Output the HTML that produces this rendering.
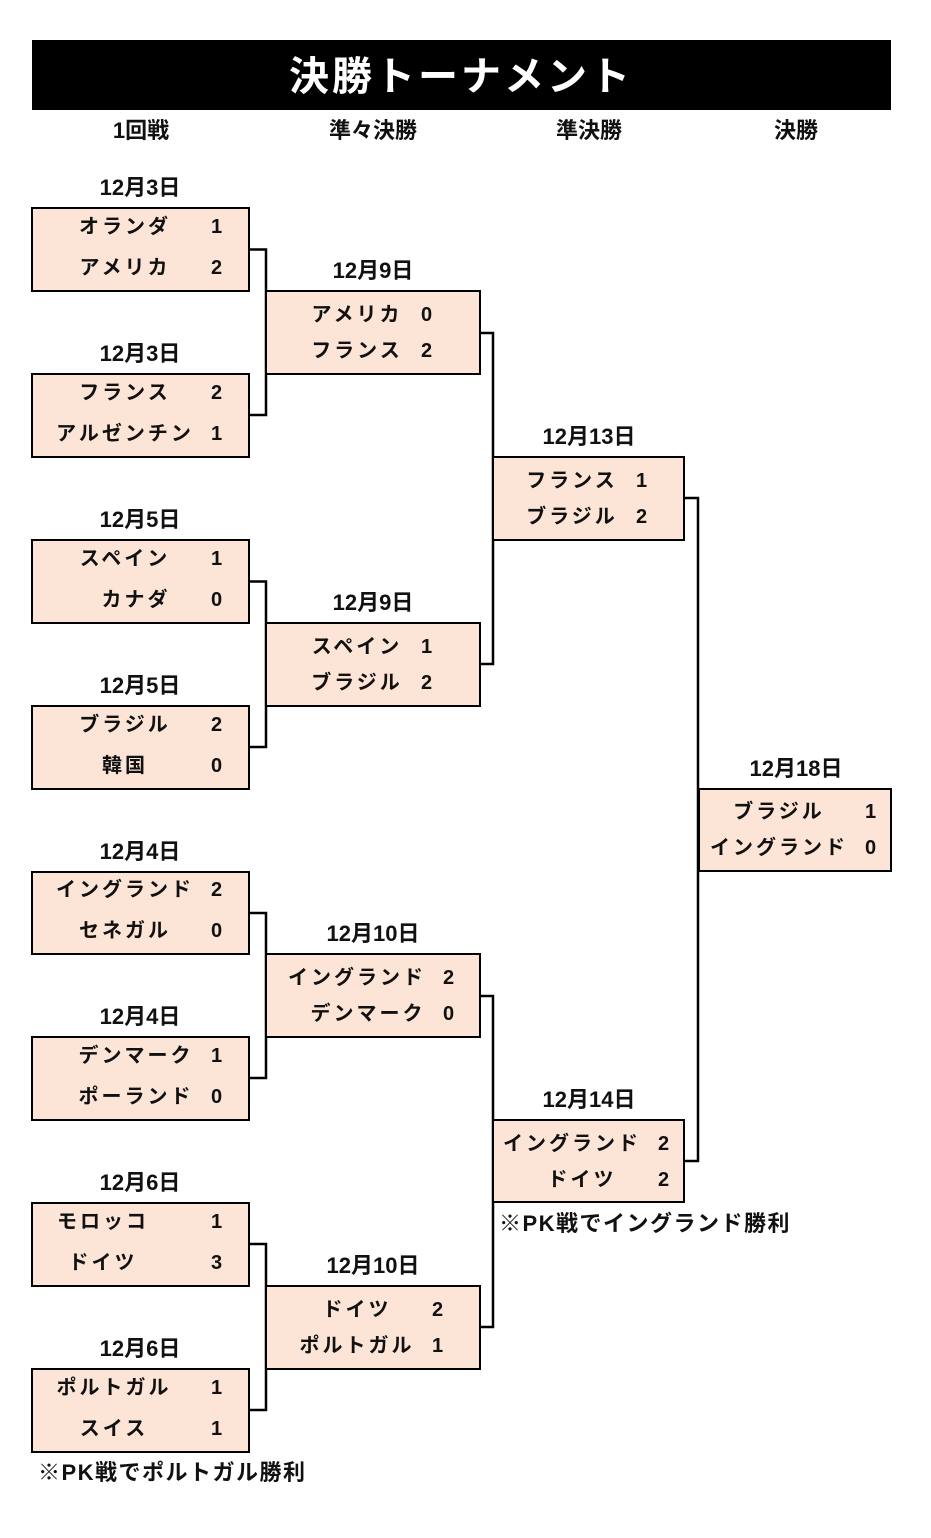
<!DOCTYPE html>
<html><head><meta charset="utf-8"><style>
html,body{margin:0;padding:0;background:#fff;}
svg text{font-family:"Liberation Sans","Noto Sans CJK JP",sans-serif;font-weight:bold;fill:#111;}
</style></head><body>
<svg width="931" height="1533" viewBox="0 0 931 1533" xmlns="http://www.w3.org/2000/svg">
<rect x="32" y="40" width="859" height="70" fill="#000"/>
<text x="461" y="90" text-anchor="middle" font-size="40" style="fill:#fff" letter-spacing="3">決勝トーナメント</text>
<g font-size="22" text-anchor="middle">
<text x="141" y="138">1回戦</text><text x="373" y="138">準々決勝</text><text x="589" y="138">準決勝</text><text x="796" y="138">決勝</text>
</g>
<g fill="none" stroke="#000" stroke-width="2.5">
<polyline points="249,249.5 266,249.5 266,415 249,415"/>
<polyline points="249,581.5 266,581.5 266,747 249,747"/>
<polyline points="249,913 266,913 266,1078 249,1078"/>
<polyline points="249,1244 266,1244 266,1410 249,1410"/>
<polyline points="480,333 493,333 493,664 480,664"/>
<polyline points="480,996 493,996 493,1327 480,1327"/>
<polyline points="684,498 698,498 698,1161 684,1161"/>
</g>
<g fill="#FCE4D6" stroke="#000" stroke-width="2">
<rect x="32" y="208" width="217" height="83"/>
<rect x="32" y="374" width="217" height="83"/>
<rect x="32" y="540" width="217" height="83"/>
<rect x="32" y="706" width="217" height="83"/>
<rect x="32" y="872" width="217" height="82"/>
<rect x="32" y="1037" width="217" height="83"/>
<rect x="32" y="1203" width="217" height="83"/>
<rect x="32" y="1369" width="217" height="83"/>
<rect x="266" y="291" width="214" height="83"/>
<rect x="266" y="623" width="214" height="83"/>
<rect x="266" y="954" width="214" height="83"/>
<rect x="266" y="1286" width="214" height="83"/>
<rect x="493" y="457" width="191" height="83"/>
<rect x="493" y="1120" width="191" height="82"/>
<rect x="699" y="789" width="192" height="82"/>
</g>
<g font-size="22" text-anchor="middle">
<text x="140" y="195">12月3日</text>
<text x="140" y="361">12月3日</text>
<text x="140" y="527">12月5日</text>
<text x="140" y="693">12月5日</text>
<text x="140" y="859">12月4日</text>
<text x="140" y="1024">12月4日</text>
<text x="140" y="1190">12月6日</text>
<text x="140" y="1356">12月6日</text>
<text x="373" y="278">12月9日</text>
<text x="373" y="610">12月9日</text>
<text x="373" y="941">12月10日</text>
<text x="373" y="1273">12月10日</text>
<text x="589" y="444">12月13日</text>
<text x="589" y="1107">12月14日</text>
<text x="796" y="776">12月18日</text>
</g>
<g font-size="20" letter-spacing="3" text-anchor="middle">
<text x="125" y="233">オランダ</text><text x="218" y="233">1</text>
<text x="125" y="274">アメリカ</text><text x="218" y="274">2</text>
<text x="125" y="399">フランス</text><text x="218" y="399">2</text>
<text x="125" y="440">アルゼンチン</text><text x="218" y="440">1</text>
<text x="125" y="565">スペイン</text><text x="218" y="565">1</text>
<text x="136" y="606">カナダ</text><text x="218" y="606">0</text>
<text x="125" y="731">ブラジル</text><text x="218" y="731">2</text>
<text x="125" y="772">韓国</text><text x="218" y="772">0</text>
<text x="125" y="896">イングランド</text><text x="218" y="896">2</text>
<text x="125" y="937">セネガル</text><text x="218" y="937">0</text>
<text x="136" y="1062">デンマーク</text><text x="218" y="1062">1</text>
<text x="136" y="1103">ポーランド</text><text x="218" y="1103">0</text>
<text x="103" y="1228">モロッコ</text><text x="218" y="1228">1</text>
<text x="103" y="1269">ドイツ</text><text x="218" y="1269">3</text>
<text x="114" y="1394">ポルトガル</text><text x="218" y="1394">1</text>
<text x="114" y="1435">スイス</text><text x="218" y="1435">1</text>

<text x="357" y="321">アメリカ</text><text x="428" y="321">0</text>
<text x="357" y="357">フランス</text><text x="428" y="357">2</text>
<text x="357" y="653">スペイン</text><text x="428" y="653">1</text>
<text x="357" y="689">ブラジル</text><text x="428" y="689">2</text>
<text x="357" y="984">イングランド</text><text x="450" y="984">2</text>
<text x="368" y="1020">デンマーク</text><text x="450" y="1020">0</text>
<text x="357" y="1316">ドイツ</text><text x="439" y="1316">2</text>
<text x="357" y="1352">ポルトガル</text><text x="439" y="1352">1</text>

<text x="572" y="487">フランス</text><text x="643" y="487">1</text>
<text x="572" y="523">ブラジル</text><text x="643" y="523">2</text>
<text x="572" y="1150">イングランド</text><text x="665" y="1150">2</text>
<text x="582" y="1186">ドイツ</text><text x="665" y="1186">2</text>

<text x="779" y="818">ブラジル</text><text x="872" y="818">1</text>
<text x="779" y="854">イングランド</text><text x="872" y="854">0</text>
</g>
<g font-size="22" letter-spacing="1.5">
<text x="499" y="1231">※PK戦でイングランド勝利</text>
<text x="38" y="1480">※PK戦でポルトガル勝利</text>
</g>
</svg>
</body></html>
